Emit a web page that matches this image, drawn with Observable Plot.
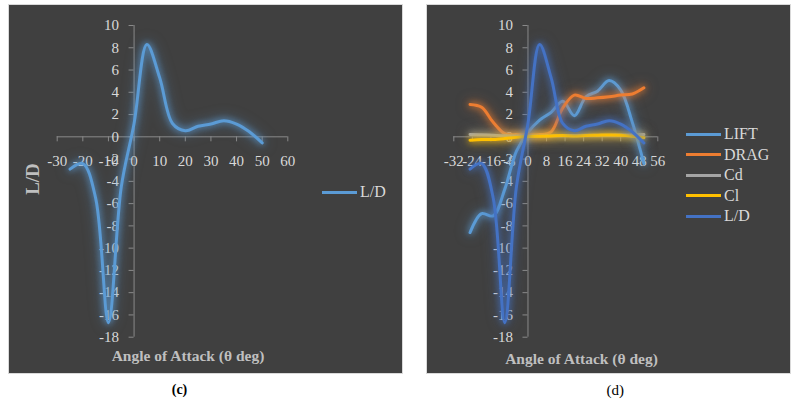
<!DOCTYPE html>
<html>
<head>
<meta charset="utf-8">
<script src="https://cdn.jsdelivr.net/npm/d3@7"></script>
<script src="https://cdn.jsdelivr.net/npm/@observablehq/plot@0.6"></script>
<style>
  html, body { margin: 0; padding: 0; background: #ffffff; }
  body { width: 797px; height: 402px; position: relative; overflow: hidden; font-family: "Liberation Serif", "Times New Roman", serif; }
  .panel { position: absolute; top: 5px; height: 368px; background: #404040; outline: 1px solid #d9d9d9; }
  .panel svg { position: absolute; left: 0; top: 0; }
  .abs { position: absolute; white-space: nowrap; }
  .axtitle { color: #bfbfbf; font-weight: bold; font-size: 15.5px; transform: translate(-50%, -50%); }
  .ytitle { color: #bfbfbf; font-weight: bold; font-size: 19px; transform: translate(-50%, -50%) rotate(-90deg); }
  .leg { position: absolute; height: 20px; display: flex; align-items: center; transform: translateY(-50%); color: #d9d9d9; font-size: 16px; }
  .leg i { display: inline-block; width: 35px; height: 3px; margin-right: 3px; }
  .cap { font-size: 14px; color: #000; transform: translate(-50%, -50%); }
</style>
</head>
<body>
<div id="pc" class="panel" style="left:9px;width:393px;"></div>
<div id="pd" class="panel" style="left:427px;width:363px;"></div>
<script>
// ---- data ----
const angles = [-25, -20, -15, -10, -5, 0, 5, 10, 15, 20, 25, 30, 35, 40, 45, 50];
const liftVals = [-8.6, -6.9, -7.1, -4.7, -1.3, 0.4, 1.5, 2.2, 3.2, 1.9, 3.6, 4.1, 5.05, 4.2, 1.3, -2.4];
const dragVals = [2.9, 2.65, 1.3, 0.28, 0.2, 0.2, 0.2, 0.45, 2.6, 3.75, 3.45, 3.5, 3.6, 3.75, 3.85, 4.4];
const cdVals = [0.2, 0.18, 0.14, 0.1, 0.08, 0.08, 0.08, 0.09, 0.1, 0.12, 0.13, 0.14, 0.15, 0.16, 0.17, 0.2];
const clVals = [-0.3, -0.25, -0.24, -0.16, -0.05, 0.02, 0.05, 0.08, 0.11, 0.08, 0.12, 0.14, 0.17, 0.15, 0.06, -0.08];
const ldVals = [-2.9, -2.4, -5.5, -16.7, -4.5, 1.2, 8.3, 5.3, 1.2, 0.55, 0.95, 1.15, 1.45, 1.15, 0.45, -0.55];

const xTicksC = [-30, -20, -10, 0, 10, 20, 30, 40, 50, 60];
const xTicksD = [-32, -24, -16, -8, 0, 8, 16, 24, 32, 40, 48, 56];
const yTicks = [10, 8, 6, 4, 2, 0, -2, -4, -6, -8, -10, -12, -14, -16, -18];

const seriesC = [{key: "ld", name: "L/D", color: "#5B9BD5"}];
const seriesD = [
  {key: "lift", name: "LIFT", color: "#5B9BD5"},
  {key: "drag", name: "DRAG", color: "#ED7D31"},
  {key: "cd", name: "Cd", color: "#A5A5A5"},
  {key: "cl", name: "Cl", color: "#FFC000"},
  {key: "ld", name: "L/D", color: "#4472C4"}
];

const rows = angles.map((a, i) => ({angle: a, lift: liftVals[i], drag: dragVals[i], cd: cdVals[i], cl: clVals[i], ld: ldVals[i]}));

const axisColor = "#898989";
const tickColor = "#d9d9d9";
const font = "Liberation Serif";

function panel(xTicks, series, w, ml, mr) {
  const xd = [xTicks[0], xTicks[xTicks.length - 1]];
  const yd = [yTicks[yTicks.length - 1], yTicks[0]];
  const marks = [
    Plot.ruleY([0], {x1: xd[0], x2: xd[1], stroke: axisColor, strokeWidth: 1}),
    Plot.ruleX([0], {y1: yd[0], y2: yd[1], stroke: axisColor, strokeWidth: 1}),
    Plot.ruleX(xTicks, {x: d => d, y1: 0, y2: 0, insetBottom: -5, stroke: axisColor}),
    Plot.ruleY(yTicks, {y: d => d, x1: 0, x2: 0, insetLeft: -5, stroke: axisColor}),
    Plot.text(xTicks, {x: d => d, y: 0, text: d => String(d), dy: 24, fill: tickColor, fontSize: 15}),
    Plot.text(yTicks, {x: 0, y: d => d, text: d => String(d), dx: -15, textAnchor: "end", fill: tickColor, fontSize: 15})
  ];
  for (const s of series) {
    marks.push(Plot.line(rows, {x: "angle", y: s.key, stroke: s.color, strokeWidth: 3, curve: "catmull-rom", strokeLinejoin: "round", strokeLinecap: "round"}));
  }
  const svg = Plot.plot({
    width: w, height: 368,
    marginLeft: ml, marginRight: mr, marginTop: 20, marginBottom: 36.3,
    x: {domain: xd, axis: null},
    y: {domain: yd, axis: null},
    style: {background: "transparent", fontFamily: font, overflow: "visible"},
    marks
  });
  svg.querySelectorAll('g[aria-label="line"]').forEach(g => {
    const c = g.getAttribute("stroke");
    g.style.filter = `drop-shadow(0 0 3px ${c}) drop-shadow(0 0 6px ${c}80)`;
  });
  return svg;
}

function addLegend(host, series, x, y0, step) {
  series.forEach((s, i) => {
    const d = document.createElement("div");
    d.className = "leg";
    d.style.left = x + "px";
    d.style.top = (y0 + i * step) + "px";
    d.innerHTML = `<i style="background:${s.color}"></i><span>${s.name}</span>`;
    host.appendChild(d);
  });
}
function addText(host, cls, text, x, y, extra) {
  const d = document.createElement("div");
  d.className = "abs " + cls;
  d.textContent = text;
  d.style.left = x + "px";
  d.style.top = y + "px";
  if (extra) Object.assign(d.style, extra);
  host.appendChild(d);
}

const pc = document.getElementById("pc");
const pd = document.getElementById("pd");
pc.appendChild(panel(xTicksC, seriesC, 393, 47.7, 114.7));
pd.appendChild(panel(xTicksD, seriesD, 363, 26.3, 132.7));

// panel (c) extras
addText(pc, "axtitle", "Angle of Attack (θ deg)", 179, 351);
addText(pc, "ytitle", "L/D", 24, 174);
addLegend(pc, seriesC, 313, 187, 20.6);
// panel (d) extras
addText(pd, "axtitle", "Angle of Attack (θ deg)", 154.5, 354);
addLegend(pd, seriesD, 259, 129, 20.6);

// captions
addText(document.body, "cap", "(c)", 179.5, 390, {fontWeight: "bold"});
addText(document.body, "cap", "(d)", 615.3, 390, {fontSize: "15px"});
</script>
</body>
</html>
